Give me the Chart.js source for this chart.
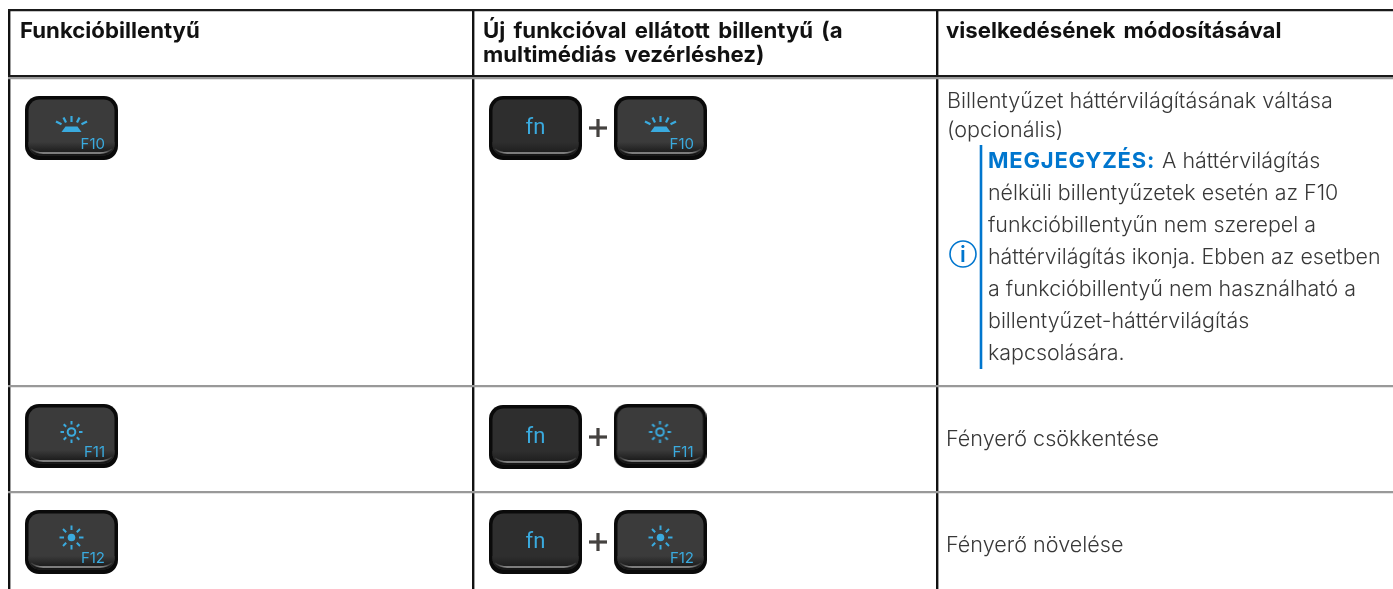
<!DOCTYPE html>
<html lang="hu">
<head>
<meta charset="utf-8">
<title>Funkcióbillentyű</title>
<script src="https://cdn.jsdelivr.net/npm/chart.js@4"></script>
<style>
  html, body { margin: 0; padding: 0; background: #fff; overflow: hidden; }
  #wrap { width: 1393px; height: 589px; }
</style>
</head>
<body>
<div id="wrap"><canvas id="chart1"></canvas></div>
<script>
// table rules
const columnRules = [9, 473, 937];
const rowRules = [10, 76, 78.5, 386, 492];
const darkRows = [10, 76];

// text of the table
const headerCells = ["Funkcióbillentyű", "Új funkcióval ellátott billentyű (a", "multimédiás vezérléshez)", "viselkedésének módosításával"];
const headerX = [20, 483, 483, 946];
const headerY = [38, 38, 62, 38];

const bodyCells = ["Billentyűzet háttérvilágításának váltása", "(opcionális)", "Fényerő csökkentése", "Fényerő növelése"];
const bodyX = [947, 947, 946, 946];
const bodyY = [108, 137, 446, 552];

const noteLead = "MEGJEGYZÉS:";
const noteLines = ["A háttérvilágítás", "nélküli billentyűzetek esetén az F10", "funkcióbillentyűn nem szerepel a", "háttérvilágítás ikonja. Ebben az esetben", "a funkcióbillentyű nem használható a", "billentyűzet-háttérvilágítás", "kapcsolására."];
const noteY = [168, 200, 232, 264, 296, 328, 360];

// keys
const keyX = [71.5, 535.5, 660.5, 71.5, 535.5, 660, 71.5, 535.5, 660.5];
const keyY = [128, 128, 128, 436, 437, 436, 542, 542, 542];
const keyNames = ["F10", "fn", "F10", "F11", "fn", "F11", "F12", "fn", "F12"];
const plusX = [598, 598, 598];
const plusY = [128, 437, 542];

const noteBarX = [981, 981];
const noteBarY = [145, 369];
const infoX = [963];
const infoY = [254];

const keyBlue = "#3aaade";
const noteBlue = "#0076ce";
const textFont = "Inter, Roboto, sans-serif";

function makeKey(name) {
  const c = document.createElement("canvas");
  c.width = 93; c.height = 64;
  const g = c.getContext("2d");
  g.fillStyle = "#0a0a0a";
  g.beginPath(); g.roundRect(0, 0, 93, 64, 14); g.fill();
  const top = name == "fn" ? "#2e2e2e" : "#3b3b3b";
  g.fillStyle = top;
  g.beginPath(); g.roundRect(3.5, 3.5, 86, 56, 11); g.fill();

  // bottom lip of the key
  g.save();
  g.beginPath(); g.roundRect(3.5, 3.5, 86, 56, 11); g.clip();
  const under = g.createLinearGradient(0, 46, 0, 60);
  under.addColorStop(0, top);
  under.addColorStop(0.6, "#222");
  under.addColorStop(1, "#111");
  g.fillStyle = under;
  g.fillRect(0, 46, 93, 16);
  const lip = g.createLinearGradient(6, 0, 87, 0);
  lip.addColorStop(0, "rgba(190,190,190,0.1)");
  lip.addColorStop(0.15, "rgba(190,190,190,0.8)");
  lip.addColorStop(0.85, "rgba(190,190,190,0.8)");
  lip.addColorStop(1, "rgba(190,190,190,0.1)");
  g.strokeStyle = lip;
  g.lineWidth = 1.6;
  g.beginPath(); g.moveTo(6, 53); g.quadraticCurveTo(11, 57, 18, 57); g.lineTo(75, 57); g.quadraticCurveTo(82, 57, 87, 53); g.stroke();
  g.restore();

  g.translate(46.5, 32);
  g.strokeStyle = keyBlue; g.fillStyle = keyBlue; g.lineCap = "butt";
  if (name == "F10") {
    g.beginPath(); g.moveTo(-6, -1.5); g.lineTo(6, -1.5); g.lineTo(10, 4); g.lineTo(-10, 4); g.closePath(); g.fill();
    g.lineWidth = 2.2;
    [[0, -12, 0, -6], [-8, -10.5, -5.5, -5.5], [8, -10.5, 5.5, -5.5], [-15.5, -6.5, -10, -3.7], [15.5, -6.5, 10, -3.7]].forEach((r) => {
      g.beginPath(); g.moveTo(r[0], r[1]); g.lineTo(r[2], r[3]); g.stroke();
    });
  }
  if (name == "F11" || name == "F12") {
    const cy = name == "F11" ? -4 : -4.5;
    const r1 = 7.5;
    const r2 = name == "F11" ? 11 : 12;
    g.lineWidth = 2;
    for (let i = 0; i < 8; i++) {
      const a = i * Math.PI / 4;
      g.beginPath();
      g.moveTo(Math.cos(a) * r1, cy + Math.sin(a) * r1);
      g.lineTo(Math.cos(a) * r2, cy + Math.sin(a) * r2);
      g.stroke();
    }
    g.beginPath();
    if (name == "F11") { g.arc(0, cy, 3.8, 0, 7); g.stroke(); }
    else { g.arc(0, cy, 3.8, 0, 7); g.fill(); }
  }
  return c;
}

function makePlus() {
  const c = document.createElement("canvas");
  c.width = 20; c.height = 20;
  const g = c.getContext("2d");
  g.fillStyle = "#444240";
  g.fillRect(1, 8.4, 18, 3.2);
  g.fillRect(8.4, 1, 3.2, 18);
  return c;
}

const tablePlugin = {
  id: "tableText",
  afterDatasetsDraw(chart) {
    const { ctx, scales: { x, y } } = chart;
    ctx.save();
    ctx.textBaseline = "alphabetic";
    ctx.textAlign = "left";

    ctx.fillStyle = "#111";
    ctx.font = "700 22.2px " + textFont;
    ctx.wordSpacing = "3px";
    headerCells.forEach((t, i) => ctx.fillText(t, x.getPixelForValue(headerX[i]), y.getPixelForValue(headerY[i])));
    ctx.wordSpacing = "0px";

    ctx.fillStyle = "#383838";
    ctx.font = "300 21.6px " + textFont;
    bodyCells.forEach((t, i) => ctx.fillText(t, x.getPixelForValue(bodyX[i]), y.getPixelForValue(bodyY[i])));

    ctx.fillStyle = noteBlue;
    ctx.font = "700 22px " + textFont;
    ctx.letterSpacing = "0.8px";
    const noteLeft = x.getPixelForValue(988);
    ctx.fillText(noteLead, noteLeft, y.getPixelForValue(noteY[0]));
    const leadW = ctx.measureText(noteLead).width;
    ctx.letterSpacing = "0px";
    ctx.fillStyle = "#383838";
    ctx.font = "300 21.4px " + textFont;
    noteLines.forEach((t, i) => ctx.fillText(t, i == 0 ? noteLeft + leadW + 7 : noteLeft, y.getPixelForValue(noteY[i])));

    ctx.fillStyle = noteBlue;
    ctx.font = "600 22px " + textFont;
    ctx.textAlign = "center";
    ctx.fillText("i", x.getPixelForValue(infoX[0]), y.getPixelForValue(infoY[0] + 8));

    ctx.fillStyle = keyBlue;
    keyNames.forEach((name, i) => {
      const px = x.getPixelForValue(keyX[i]);
      const py = y.getPixelForValue(keyY[i]);
      if (name == "fn") {
        ctx.textAlign = "center";
        ctx.font = "400 22px Roboto, sans-serif";
        ctx.fillText(name, px, py + 5.5);
      } else {
        ctx.textAlign = "right";
        ctx.font = "400 15px " + textFont;
        ctx.fillText(name, px + 33.5, py + 21);
      }
    });
    ctx.restore();
  },
};

new Chart(document.getElementById("chart1"), {
  type: "scatter",
  plugins: [tablePlugin],
  data: {
    datasets: [
      {
        label: "Billentyűk",
        data: keyX.map((v, i) => ({ x: v, y: keyY[i] })),
        pointStyle: keyNames.map(makeKey),
      },
      {
        label: "+",
        data: plusX.map((v, i) => ({ x: v, y: plusY[i] })),
        pointStyle: makePlus(),
      },
      {
        label: "Megjegyzés",
        data: noteBarX.map((v, i) => ({ x: v, y: noteBarY[i] })),
        showLine: true,
        borderColor: noteBlue,
        borderWidth: 2.6,
        pointRadius: 0,
      },
      {
        label: "Info",
        data: infoX.map((v, i) => ({ x: v, y: infoY[i] })),
        pointStyle: "circle",
        pointRadius: 13,
        pointBorderWidth: 1.6,
        pointBorderColor: noteBlue,
        pointBackgroundColor: "#fff",
      },
    ],
  },
  options: {
    responsive: true,
    maintainAspectRatio: false,
    animation: false,
    events: [],
    layout: { autoPadding: false, padding: { left: 8, top: 9 } },
    plugins: { legend: { display: false }, tooltip: { enabled: false }, title: { display: false } },
    scales: {
      x: {
        type: "linear",
        min: 8,
        max: 1393,
        afterBuildTicks: (axis) => { axis.ticks = columnRules.map((v) => ({ value: v })); },
        ticks: { display: false },
        border: { display: false },
        grid: { color: "#111", lineWidth: 2.4, drawTicks: false },
      },
      y: {
        type: "linear",
        reverse: true,
        min: 9,
        max: 589,
        afterBuildTicks: (axis) => { axis.ticks = rowRules.map((v) => ({ value: v })); },
        ticks: { display: false },
        border: { display: false },
        grid: {
          drawTicks: false,
          lineWidth: 2.2,
          color: (c) => (darkRows.includes(c.tick.value) ? "#1a1a1a" : "#999"),
        },
      },
    },
  },
});
</script>
</body>
</html>
